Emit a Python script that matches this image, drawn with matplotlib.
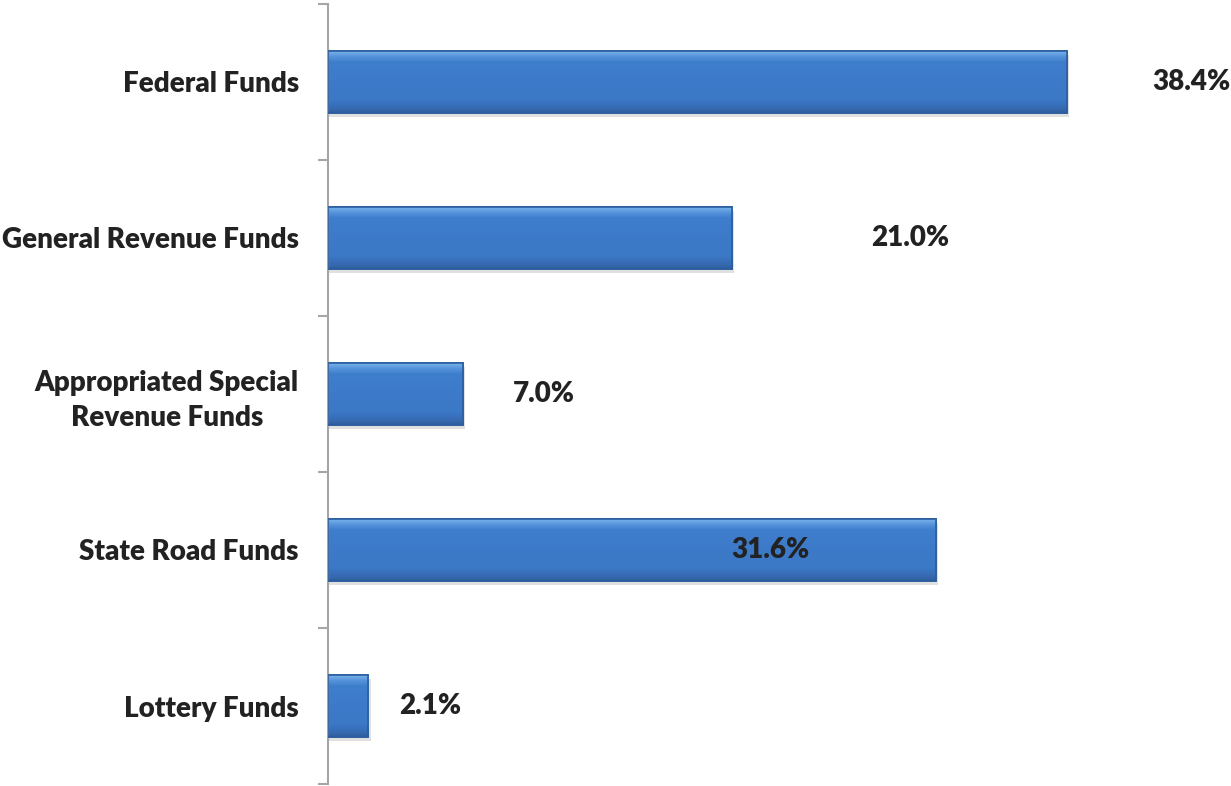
import matplotlib
matplotlib.use("Agg")
import matplotlib.pyplot as plt
import numpy as np
from matplotlib.colors import LinearSegmentedColormap

# --- data -------------------------------------------------------------
categories = [
    "Federal Funds",
    "General Revenue Funds",
    "Appropriated Special\nRevenue Funds",
    "State Road Funds",
    "Lottery Funds",
]
shares = [38.4, 21.0, 7.0, 31.6, 2.1]
value_labels = ["38.4%", "21.0%", "7.0%", "31.6%", "2.1%"]
# where Excel put the data labels (x, in % units)
label_x = [44.9, 30.25, 11.2, 23.0, 5.3]

plt.rcParams["font.family"] = ["Lato", "DejaVu Sans"]

fig = plt.figure(figsize=(12.31, 7.86), dpi=100)
ax = fig.add_axes([328 / 1231, 2 / 786, 885 / 1231, 780 / 786])

y = np.arange(len(categories))
bar_h = 0.4

# soft drop shadow
ax.barh(y + 0.025, [s + 0.12 for s in shares], height=bar_h, left=0,
        color="#000000", alpha=0.12, zorder=1, linewidth=0)

bars = ax.barh(y, shares, height=bar_h, color="#3D7CCB",
               edgecolor="#2C5E9E", linewidth=1.2, zorder=2)

# bevel-ish gradient inside each bar
grad_cmap = LinearSegmentedColormap.from_list(
    "bevel",
    [(0.0, "#7DB6EE"), (0.1, "#5592DA"), (0.18, "#3F7ECD"),
     (0.8, "#3B78C6"), (0.94, "#3669B0"), (1.0, "#2F5E9E")])
grad = np.linspace(0, 1, 64).reshape(-1, 1)
for b in bars:
    x0, y0 = b.get_x(), b.get_y()
    w, h = b.get_width(), b.get_height()
    im = ax.imshow(grad, cmap=grad_cmap, aspect="auto",
                   extent=(x0, x0 + w, y0 + h, y0), zorder=2.5,
                   interpolation="bilinear")
    im.set_clip_path(b)
    ax.add_patch(plt.Rectangle((x0, y0), w, h, fill=False,
                               edgecolor="#2C5E9E", linewidth=1.2, zorder=3))

for yi, txt, lx in zip(y, value_labels, label_x):
    ax.text(lx, yi, txt, ha="center", va="center", fontsize=20,
            fontweight="heavy", color="#222222", zorder=4)

ax.set_xlim(0, 46)
ax.set_ylim(len(categories) - 0.5, -0.5)

ax.set_yticks(np.arange(len(categories) + 1) - 0.5)
ax.set_yticklabels([])
ax.set_yticks(y, minor=True)
ax.set_yticklabels(categories, minor=True, fontsize=20, fontweight="heavy",
                   color="#222222", multialignment="center", linespacing=1.4)
ax.tick_params(axis="y", which="major", length=7.5, width=1.5,
               color="#A6A6A6", direction="out")
ax.tick_params(axis="y", which="minor", length=0, pad=21)
ax.set_xticks([])

for side in ("top", "right", "bottom"):
    ax.spines[side].set_visible(False)
ax.spines["left"].set_color("#A6A6A6")
ax.spines["left"].set_linewidth(1.5)

fig.savefig("out.png", dpi=100)
